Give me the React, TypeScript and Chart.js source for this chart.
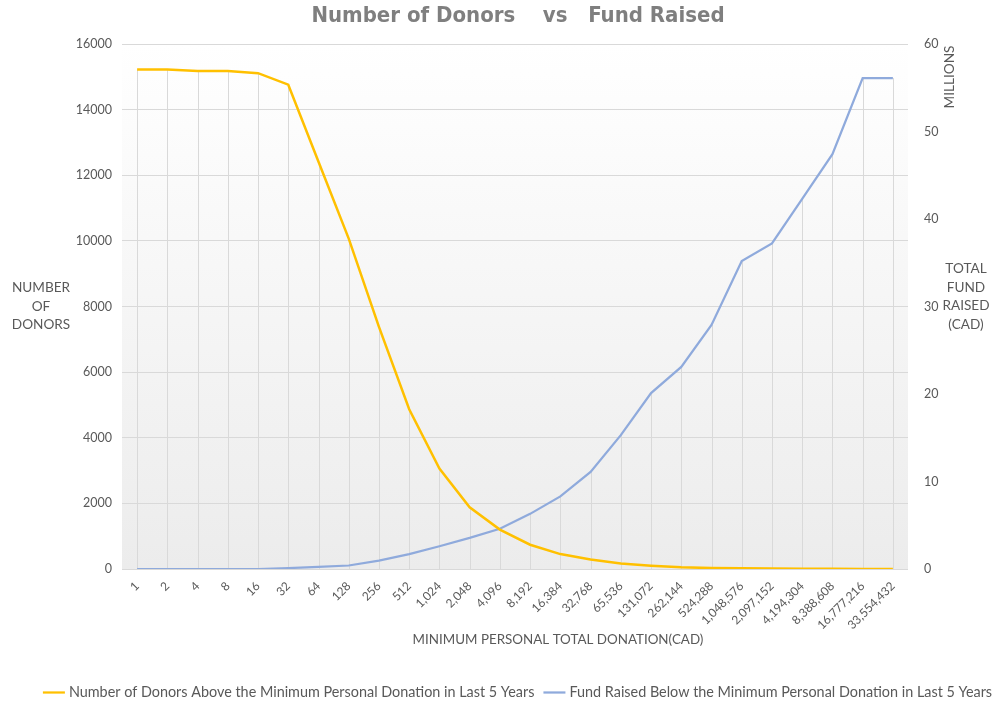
import React, { useEffect, useRef } from "react";
import { Chart, registerables } from "chart.js";

Chart.register(...registerables);

const categories = [
  "1", "2", "4", "8", "16", "32", "64", "128", "256", "512", "1,024", "2,048", "4,096",
  "8,192", "16,384", "32,768", "65,536", "131,072", "262,144", "524,288", "1,048,576",
  "2,097,152", "4,194,304", "8,388,608", "16,777,216", "33,554,432",
];

const donorsAbove = [
  15220, 15220, 15180, 15180, 15110, 14760, 12410, 10070, 7380, 4870, 3060, 1880, 1200,
  740, 455, 290, 165, 100, 50, 30, 20, 15, 10, 5, 0, 0,
];

const fundRaisedMillions = [
  0, 0, 0, 0, 0, 0.1, 0.25, 0.4, 0.95, 1.7, 2.6, 3.55, 4.6,
  6.3, 8.3, 11.1, 15.3, 20.1, 23.1, 27.9, 35.2, 37.2, 42.3, 47.4, 56.1, 56.1,
];

const donorLabel = "Number of Donors Above the Minimum Personal Donation in Last 5 Years";
const fundLabel = "Fund Raised Below the Minimum Personal Donation in Last 5 Years";
const titleText = "Number of Donors    vs   Fund Raised";
const xTitle = "MINIMUM PERSONAL TOTAL DONATION(CAD)";
const leftTitle = ["NUMBER", "OF", "DONORS"];
const rightUnit = "MILLIONS";
const rightTitle = ["TOTAL", "FUND", "RAISED", "(CAD)"];

const FONT = "Lato, 'Open Sans', sans-serif";
const TEXT = "#595959";
const GRID = "#d9d9d9";
const YELLOW = "#ffc000";
const BLUE = "#8faadc";

const bgPlugin = {
  id: "plotBg",
  beforeDraw(chart: any) {
    const { ctx, chartArea } = chart;
    const g = ctx.createLinearGradient(0, chartArea.top, 0, chartArea.bottom);
    g.addColorStop(0, "#ffffff");
    g.addColorStop(1, "#ececec");
    ctx.save();
    ctx.fillStyle = g;
    ctx.fillRect(chartArea.left, chartArea.top, chartArea.right - chartArea.left, chartArea.bottom - chartArea.top);
    ctx.restore();
  },
};

const dropLinesPlugin = {
  id: "dropLines",
  beforeDatasetsDraw(chart: any) {
    const { ctx, chartArea } = chart;
    const a = chart.getDatasetMeta(0).data;
    const b = chart.getDatasetMeta(1).data;
    ctx.save();
    ctx.strokeStyle = GRID;
    ctx.lineWidth = 1;
    ctx.beginPath();
    for (let i = 0; i < a.length; i++) {
      const x = Math.round(a[i].x) + 0.5;
      const top = Math.min(a[i].y, b[i].y);
      ctx.moveTo(x, top);
      ctx.lineTo(x, chartArea.bottom);
    }
    ctx.stroke();
    ctx.restore();
  },
};

const textPlugin = {
  id: "texts",
  afterDraw(chart: any) {
    const { ctx, chartArea } = chart;
    ctx.save();
    // title
    ctx.fillStyle = "#7f7f7f";
    ctx.font = "bold 22px 'Liberation Sans Narrow', 'DejaVu Sans Condensed', sans-serif";
    ctx.textAlign = "center";
    ctx.textBaseline = "middle";
    ctx.fillText(titleText, 518, 16);

    ctx.fillStyle = TEXT;
    ctx.font = `13.6px ${FONT}`;
    // left axis title
    leftTitle.forEach((t, i) => ctx.fillText(t, 41, 288 + i * 18.5));
    // right axis title
    rightTitle.forEach((t, i) => ctx.fillText(t, 966, 269 + i * 18.5));
    // millions rotated
    ctx.save();
    ctx.translate(950, 77);
    ctx.rotate(-Math.PI / 2);
    ctx.fillText(rightUnit, 0, 0);
    ctx.restore();
    // x title
    ctx.font = `13.4px ${FONT}`;
    ctx.fillText(xTitle, (chartArea.left + chartArea.right) / 2 + 43, 640);

    // legend
    ctx.font = `14.4px ${FONT}`;
    const items = chart.data.datasets.map((d: any) => ({ label: d.label, color: d.borderColor }));
    const lineW = 22;
    const gapLT = 4;
    const gapItems = 9;
    const widths = items.map((it: any) => lineW + gapLT + ctx.measureText(it.label).width);
    const total = widths.reduce((s: number, w: number) => s + w, 0) + gapItems * (items.length - 1);
    let x = 517.5 - total / 2;
    const y = 692;
    ctx.textAlign = "left";
    items.forEach((it: any, i: number) => {
      ctx.strokeStyle = it.color;
      ctx.lineWidth = 2.25;
      ctx.beginPath();
      ctx.moveTo(x, y + 0.5);
      ctx.lineTo(x + lineW, y + 0.5);
      ctx.stroke();
      ctx.fillText(it.label, x + lineW + gapLT, y);
      x += widths[i] + gapItems;
    });
    ctx.restore();
  },
};

export default function App() {
  const ref = useRef<HTMLCanvasElement | null>(null);

  useEffect(() => {
    if (!ref.current) return;
    const chart = new Chart(ref.current, {
      type: "line",
      data: {
        labels: categories,
        datasets: [
          {
            label: donorLabel,
            data: donorsAbove,
            borderColor: YELLOW,
            backgroundColor: YELLOW,
            borderWidth: 2.5,
            pointRadius: 0,
            tension: 0,
            yAxisID: "y",
          },
          {
            label: fundLabel,
            data: fundRaisedMillions,
            borderColor: BLUE,
            backgroundColor: BLUE,
            borderWidth: 2.25,
            pointRadius: 0,
            tension: 0,
            yAxisID: "y1",
          },
        ],
      },
      options: {
        responsive: false,
        animation: false,
        layout: { padding: { top: 44, left: 0, right: 0, bottom: 0 } },
        plugins: {
          legend: { display: false },
          title: { display: false },
          tooltip: { enabled: false },
        },
        scales: {
          x: {
            offset: true,
            grid: { display: false },
            border: { display: false },
            ticks: {
              autoSkip: false,
              minRotation: 45,
              maxRotation: 45,
              padding: 2,
              color: TEXT,
              font: { family: FONT, size: 12 },
            },
            afterFit: (s: any) => {
              s.height = 135;
            },
          },
          y: {
            position: "left",
            min: 0,
            max: 16000,
            ticks: {
              stepSize: 2000,
              padding: 10,
              color: TEXT,
              font: { family: FONT, size: 12.5 },
              callback: (v: any) => String(v),
            },
            grid: { color: GRID, lineWidth: 1, drawTicks: false },
            border: { display: false },
            afterFit: (s: any) => {
              s.width = 122;
            },
          },
          y1: {
            position: "right",
            min: 0,
            max: 60,
            ticks: {
              stepSize: 10,
              padding: 16,
              color: TEXT,
              font: { family: FONT, size: 12.5 },
              callback: (v: any) => String(v),
            },
            grid: { display: false, drawTicks: false },
            border: { display: false },
            afterFit: (s: any) => {
              s.width = 84;
            },
          },
        },
      },
      plugins: [bgPlugin, dropLinesPlugin, textPlugin],
    });
    return () => chart.destroy();
  }, []);

  return (
    <div style={{ position: "absolute", left: 0, top: 0, width: 992, height: 704, background: "#fff" }}>
      <canvas ref={ref} width={992} height={704} style={{ display: "block", width: 992, height: 704 }} />
    </div>
  );
}
